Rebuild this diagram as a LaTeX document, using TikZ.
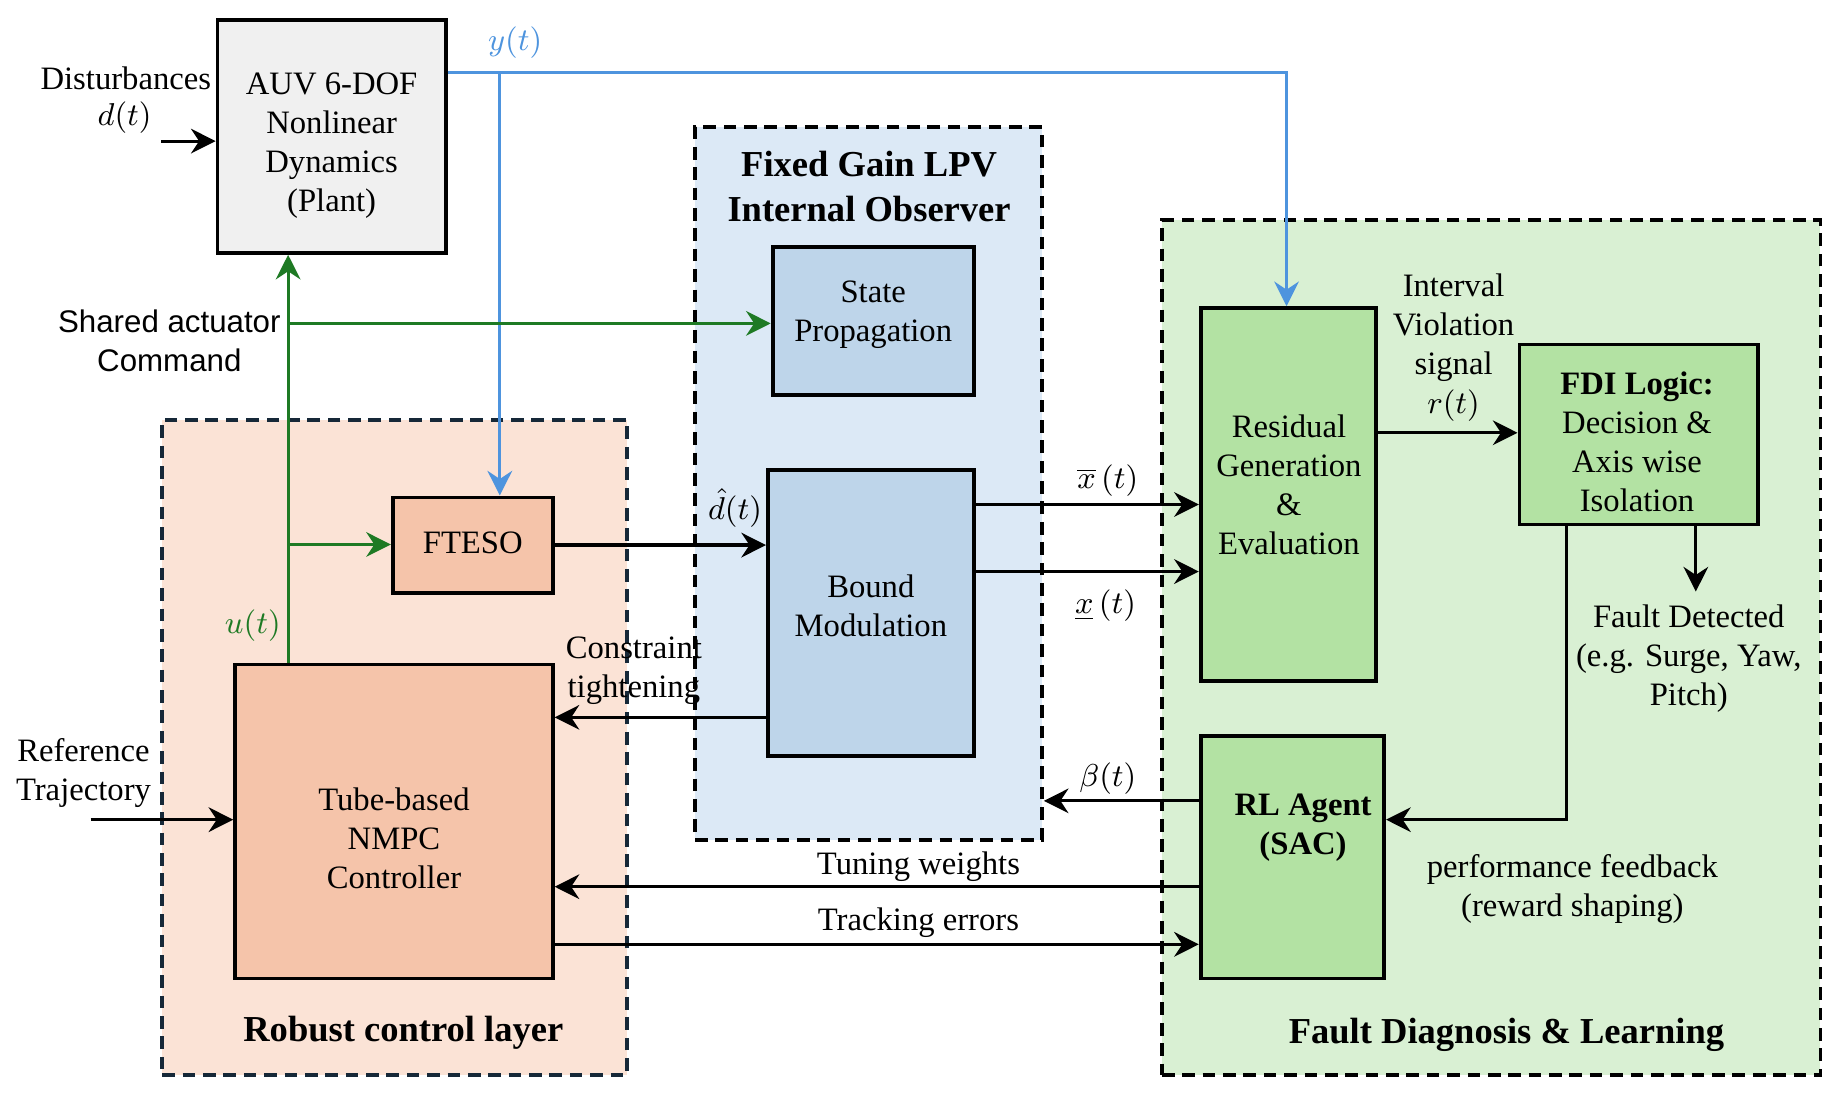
\documentclass[tikz,border=0pt]{standalone}
\usepackage{fontspec}
\setmainfont{Liberation Serif}
\newfontfamily\sansf{Liberation Sans}
\usetikzlibrary{arrows.meta}
\definecolor{ycol}{RGB}{78,148,222}
\definecolor{ucol}{RGB}{30,122,36}
\definecolor{auvfill}{RGB}{240,240,240}
\definecolor{obsfill}{RGB}{220,233,246}
\definecolor{obsbox}{RGB}{190,213,234}
\definecolor{robfill}{RGB}{251,227,214}
\definecolor{robbox}{RGB}{245,196,170}
\definecolor{robline}{RGB}{22,40,56}
\definecolor{fltfill}{RGB}{217,240,211}
\definecolor{fltbox}{RGB}{179,226,163}
\def\pu{0.0117602cm}
\begin{document}
\begin{tikzpicture}[x=0.0117602cm,y=-0.0117602cm,
 box/.style={draw, line width=1.1pt, inner sep=0pt},
 grp/.style={draw, line width=1.1pt, dash pattern=on 3.6pt off 2.2pt, inner sep=0pt},
 txt/.style={align=center, inner sep=0pt, font=\fontsize{9.3}{11.1}\selectfont},
 ttl/.style={align=center, inner sep=0pt, font=\fontsize{10.4}{12.8}\selectfont\bfseries},
 stxt/.style={align=center, inner sep=0pt, font=\sansf\fontsize{8.9}{11.1}\selectfont},
 arr/.style={line width=0.9pt, -{Stealth[length=7pt,width=7pt,inset=2.3pt]}},
 sig/.style={arr, draw=ycol},
 ctl/.style={arr, draw=ucol},
]
\useasboundingbox (0,0) rectangle (1568,932);

% groups
\node[grp, draw=robline, fill=robfill, minimum width={395*\pu}, minimum height={557*\pu}] (robust) at (335.5,635.5) {};
\node[grp, fill=obsfill, minimum width={295*\pu}, minimum height={606*\pu}] (obs) at (738.5,411) {};
\node[grp, fill=fltfill, minimum width={560*\pu}, minimum height={727*\pu}] (fault) at (1268,550.5) {};

\node[ttl] (robustT) at (343,878) {Robust control layer};
\node[ttl] (obsT) at (739,159) {Fixed Gain LPV\\Internal Observer};
\node[ttl] (faultT) at (1281,880) {Fault Diagnosis \& Learning};

% blocks
\node[box, fill=auvfill, minimum width={194*\pu}, minimum height={198*\pu}] (auv) at (282,116) {};
\node[box, fill=obsbox, minimum width={171*\pu}, minimum height={126*\pu}] (sp) at (742.5,273) {};
\node[box, fill=obsbox, minimum width={175*\pu}, minimum height={243*\pu}] (bound) at (740.5,521.5) {};
\node[box, fill=robbox, minimum width={136*\pu}, minimum height={81*\pu}] (fteso) at (402,463.5) {};
\node[box, fill=robbox, minimum width={270*\pu}, minimum height={267*\pu}] (nmpc) at (335,698.5) {};
\node[box, fill=fltbox, minimum width={149*\pu}, minimum height={317*\pu}] (res) at (1095.5,420.5) {};
\node[box, fill=fltbox, minimum width={203*\pu}, minimum height={153*\pu}] (fdi) at (1393.5,369.5) {};
\node[box, fill=fltbox, minimum width={156*\pu}, minimum height={206*\pu}] (rl) at (1099,729) {};

\node[txt] (auvT) at (282,124) {AUV 6-DOF\\Nonlinear\\Dynamics\\(Plant)};
\node[txt] (spT) at (742.5,268) {State\\Propagation};
\node[txt] (boundT) at (740.5,515) {Bound\\Modulation};
\node[txt] (ftesoT) at (402,462) {FTESO};
\node[txt] (nmpcT) at (335,713) {Tube-based\\NMPC\\Controller};
\node[txt] (resT) at (1096,412) {Residual\\Generation\\\&\\Evaluation};
\node[txt] (fdiT) at (1392,375.5) {\textbf{FDI Logic:}\\Decision \&\\Axis wise\\Isolation};
\node[txt, font=\fontsize{9.3}{11.1}\selectfont\bfseries] (rlT) at (1108,704) {RL Agent\\(SAC)};

% free ends and taps
\coordinate (dIn) at (137,120);
\coordinate (ytap) at (425,62);
\coordinate (ycorner) at (1094,62);
\coordinate (gx) at (245,0);
\coordinate (gtap1) at (245,275);
\coordinate (gtap2) at (245,463);
\coordinate (ct) at (0,610);
\coordinate (xu) at (0,429);
\coordinate (xl) at (0,486);
\coordinate (bt) at (0,681);
\coordinate (tw) at (0,754);
\coordinate (te) at (0,803);
\coordinate (rt) at (0,368);
\coordinate (fdown) at (1442,503);
\coordinate (fbx) at (1332,0);
\coordinate (fby) at (0,697);
\coordinate (refIn) at (77,697);

% connectors
\draw[arr] (dIn) -- (dIn -| auv.west);
\draw[sig] (ytap -| auv.east) -- (ycorner) -- (ycorner |- res.north);
\draw[sig] (ytap) -- (ytap |- fteso.north);
\draw[ctl] (gx |- nmpc.north) -- (gx |- auv.south);
\draw[ctl] (gtap1) -- (gtap1 -| sp.west);
\draw[ctl] (gtap2) -- (gtap2 -| fteso.west);
\draw[arr] (fteso.east) -- (fteso.east -| bound.west);
\draw[arr] (ct -| bound.west) -- (ct -| nmpc.east);
\draw[arr] (xu -| bound.east) -- (xu -| res.west);
\draw[arr] (xl -| bound.east) -- (xl -| res.west);
\draw[arr] (bt -| rl.west) -- (bt -| obs.east);
\draw[arr] (tw -| rl.west) -- (tw -| nmpc.east);
\draw[arr] (te -| nmpc.east) -- (te -| rl.west);
\draw[arr] (rt -| res.east) -- (rt -| fdi.west);
\draw[arr] (fdown |- fdi.south) -- (fdown);
\draw[arr] (fbx |- fdi.south) -- (fbx |- fby) -- (fby -| rl.east);
\draw[arr] (refIn) -- (refIn -| nmpc.west);

% labels
\node[txt] (distT) at (107,67) {Disturbances};
\node[txt] (dT) at (106,100) {$d(t)$};
\node[txt, text=ycol] (yT) at (438,36) {$y(t)$};
\node[stxt] (shT) at (144,290) {Shared actuator\\Command};
\node[txt, text=ucol] (uT) at (215,532) {$u(t)$};
\node[txt] (dhT) at (625,432) {$\hat{d}(t)$};
\node[txt] (ctT) at (539,570) {Constraint\\tightening};
\node[txt] (xuT) at (942,409) {$\overline{x}\,(t)$};
\node[txt] (xlT) at (940,515) {$\underline{x}\,(t)$};
\node[txt] (bT) at (942,662) {$\beta(t)$};
\node[txt] (twT) at (781,737) {Tuning weights};
\node[txt] (teT) at (781,785) {Tracking errors};
\node[txt] (rtT) at (1236,295.5) {Interval\\Violation\\signal\\$r(t)$};
\node[txt] (fdT) at (1436,560) {Fault Detected\\(e.g. Surge, Yaw,\\Pitch)};
\node[txt] (pfT) at (1337,756) {performance feedback\\(reward shaping)};
\node[txt] (refT) at (71,657.5) {Reference\\Trajectory};
\end{tikzpicture}
\end{document}
